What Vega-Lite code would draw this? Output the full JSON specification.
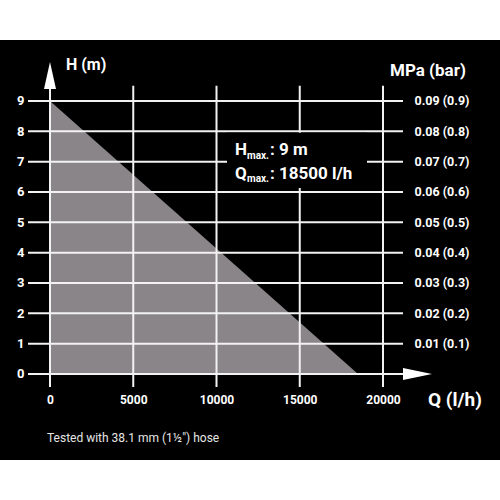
{
  "$schema": "https://vega.github.io/schema/vega-lite/v6.json",
  "description": "Pump performance curve: delivery head H against flow rate Q.",
  "width": 500,
  "height": 420,
  "autosize": {"type": "none"},
  "padding": {"top": 40, "bottom": 40, "left": 0, "right": 0},
  "background": "white",
  "config": {
    "view": {"fill": "black", "stroke": null},
    "font": "Roboto",
    "text": {"color": "white", "baseline": "middle", "align": "left"}
  },
  "datasets": {
    "curve": [{"q": 0, "h": 9}, {"q": 18500, "h": 0}],
    "hgrid": [
      {"h": 0}, {"h": 1}, {"h": 2}, {"h": 3}, {"h": 4},
      {"h": 5}, {"h": 6}, {"h": 7}, {"h": 8}, {"h": 9}
    ],
    "vgrid": [{"q": 5000}, {"q": 10000}, {"q": 15000}, {"q": 20000}],
    "box": [{"q1": 10631, "q2": 19039, "h1": 6.13, "h2": 7.95}],
    "bigText": [
      {"q": 11111, "h": 7.39, "t": "H"},
      {"q": 13213, "h": 7.39, "t": ": 9 m"},
      {"q": 11111, "h": 6.6, "t": "Q"},
      {"q": 13213, "h": 6.6, "t": ": 18500 l/h"}
    ],
    "smallText": [
      {"q": 11832, "h": 7.19, "t": "max."},
      {"q": 11832, "h": 6.42, "t": "max."}
    ]
  },
  "layer": [
    {
      "data": {"name": "curve"},
      "mark": {"type": "area", "color": "#8a8589", "opacity": 1},
      "encoding": {
        "x": {
          "field": "q", "type": "quantitative",
          "scale": {"domain": [-3003, 27027], "nice": false, "zero": false},
          "axis": {
            "orient": "bottom", "values": [0, 5000, 10000, 15000, 20000], "format": "d",
            "offset": -66, "labelPadding": 0, "ticks": false, "domain": false, "grid": false,
            "title": null, "labelColor": "white", "labelFontSize": 12, "labelFontWeight": "bold",
            "labelBaseline": "top", "labelFlush": false, "labelOverlap": false
          }
        },
        "y": {
          "field": "h", "type": "quantitative",
          "scale": {"domain": [-2.835, 11.01], "nice": false, "zero": false},
          "axis": {
            "orient": "left", "values": [0, 1, 2, 3, 4, 5, 6, 7, 8, 9],
            "offset": -24, "labelPadding": 0, "ticks": false, "domain": false, "grid": false,
            "title": null, "labelColor": "white", "labelFontSize": 13, "labelFontWeight": "bold",
            "labelFlush": false, "labelOverlap": false
          }
        },
        "y2": {"datum": 0}
      }
    },
    {
      "data": {"name": "hgrid"},
      "mark": {"type": "rule", "color": "#f2f2f2", "strokeWidth": 2},
      "encoding": {
        "y": {
          "field": "h", "type": "quantitative",
          "axis": {
            "orient": "right", "values": [1, 2, 3, 4, 5, 6, 7, 8, 9],
            "labelExpr": "format(datum.value / 100, '.2f') + ' (' + format(datum.value / 10, '.1f') + ')'",
            "offset": -86, "labelPadding": 0, "ticks": false, "domain": false, "grid": false,
            "title": null, "labelColor": "white", "labelFontSize": 12.5, "labelFontWeight": "bold",
            "labelAlign": "left", "labelFlush": false, "labelOverlap": false
          }
        },
        "x": {"datum": -1321},
        "x2": {"datum": 21201}
      }
    },
    {
      "data": {"name": "vgrid"},
      "mark": {"type": "rule", "color": "#f2f2f2", "strokeWidth": 2},
      "encoding": {
        "x": {"field": "q", "type": "quantitative"},
        "y": {"datum": -0.43, "axis": null},
        "y2": {"datum": 9.5}
      }
    },
    {
      "data": {"values": [{"q": 0}]},
      "mark": {"type": "rule", "color": "#f2f2f2", "strokeWidth": 2},
      "encoding": {
        "x": {"field": "q", "type": "quantitative"},
        "y": {"datum": -0.43, "axis": null},
        "y2": {"datum": 9.45}
      }
    },
    {
      "data": {"values": [{"q": 0, "h": 9.397}]},
      "mark": {"type": "point", "shape": "M-1,0L0,-4.5L1,0Z", "filled": true, "size": 144, "color": "white", "opacity": 1},
      "encoding": {
        "x": {"field": "q", "type": "quantitative"},
        "y": {"field": "h", "type": "quantitative", "axis": null}
      }
    },
    {
      "data": {"values": [{"q": 21201, "h": 0}]},
      "mark": {"type": "point", "shape": "M0,-1L4.83,0L0,1Z", "filled": true, "size": 144, "color": "white", "opacity": 1},
      "encoding": {
        "x": {"field": "q", "type": "quantitative"},
        "y": {"field": "h", "type": "quantitative", "axis": null}
      }
    },
    {
      "data": {"name": "box"},
      "mark": {"type": "rect", "color": "black"},
      "encoding": {
        "x": {"field": "q1", "type": "quantitative"},
        "x2": {"field": "q2"},
        "y": {"field": "h1", "type": "quantitative", "axis": null},
        "y2": {"field": "h2"}
      }
    },
    {
      "data": {"name": "bigText"},
      "mark": {"type": "text", "fontSize": 17, "fontWeight": "bold"},
      "encoding": {
        "x": {"field": "q", "type": "quantitative"},
        "y": {"field": "h", "type": "quantitative", "axis": null},
        "text": {"field": "t"}
      }
    },
    {
      "data": {"name": "smallText"},
      "mark": {"type": "text", "fontSize": 10, "fontWeight": "bold"},
      "encoding": {
        "x": {"field": "q", "type": "quantitative"},
        "y": {"field": "h", "type": "quantitative", "axis": null},
        "text": {"field": "t"}
      }
    },
    {
      "data": {"values": [{"q": 961, "h": 10.19, "t": "H (m)"}]},
      "mark": {"type": "text", "fontSize": 16, "fontWeight": "bold"},
      "encoding": {
        "x": {"field": "q", "type": "quantitative"},
        "y": {"field": "h", "type": "quantitative", "axis": null},
        "text": {"field": "t"}
      }
    },
    {
      "data": {"values": [{"q": 20420, "h": 9.99, "t": "MPa (bar)"}]},
      "mark": {"type": "text", "fontSize": 17, "fontWeight": "bold"},
      "encoding": {
        "x": {"field": "q", "type": "quantitative"},
        "y": {"field": "h", "type": "quantitative", "axis": null},
        "text": {"field": "t"}
      }
    },
    {
      "data": {"values": [{"q": 22703, "h": -0.857, "t": "Q (l/h)"}]},
      "mark": {"type": "text", "fontSize": 19, "fontWeight": "bold"},
      "encoding": {
        "x": {"field": "q", "type": "quantitative"},
        "y": {"field": "h", "type": "quantitative", "axis": null},
        "text": {"field": "t"}
      }
    },
    {
      "data": {"values": [{"q": -180, "h": -2.11, "t": "Tested with 38.1 mm (1½\") hose"}]},
      "mark": {"type": "text", "fontSize": 12, "color": "#e6e6e6"},
      "encoding": {
        "x": {"field": "q", "type": "quantitative"},
        "y": {"field": "h", "type": "quantitative", "axis": null},
        "text": {"field": "t"}
      }
    }
  ]
}
